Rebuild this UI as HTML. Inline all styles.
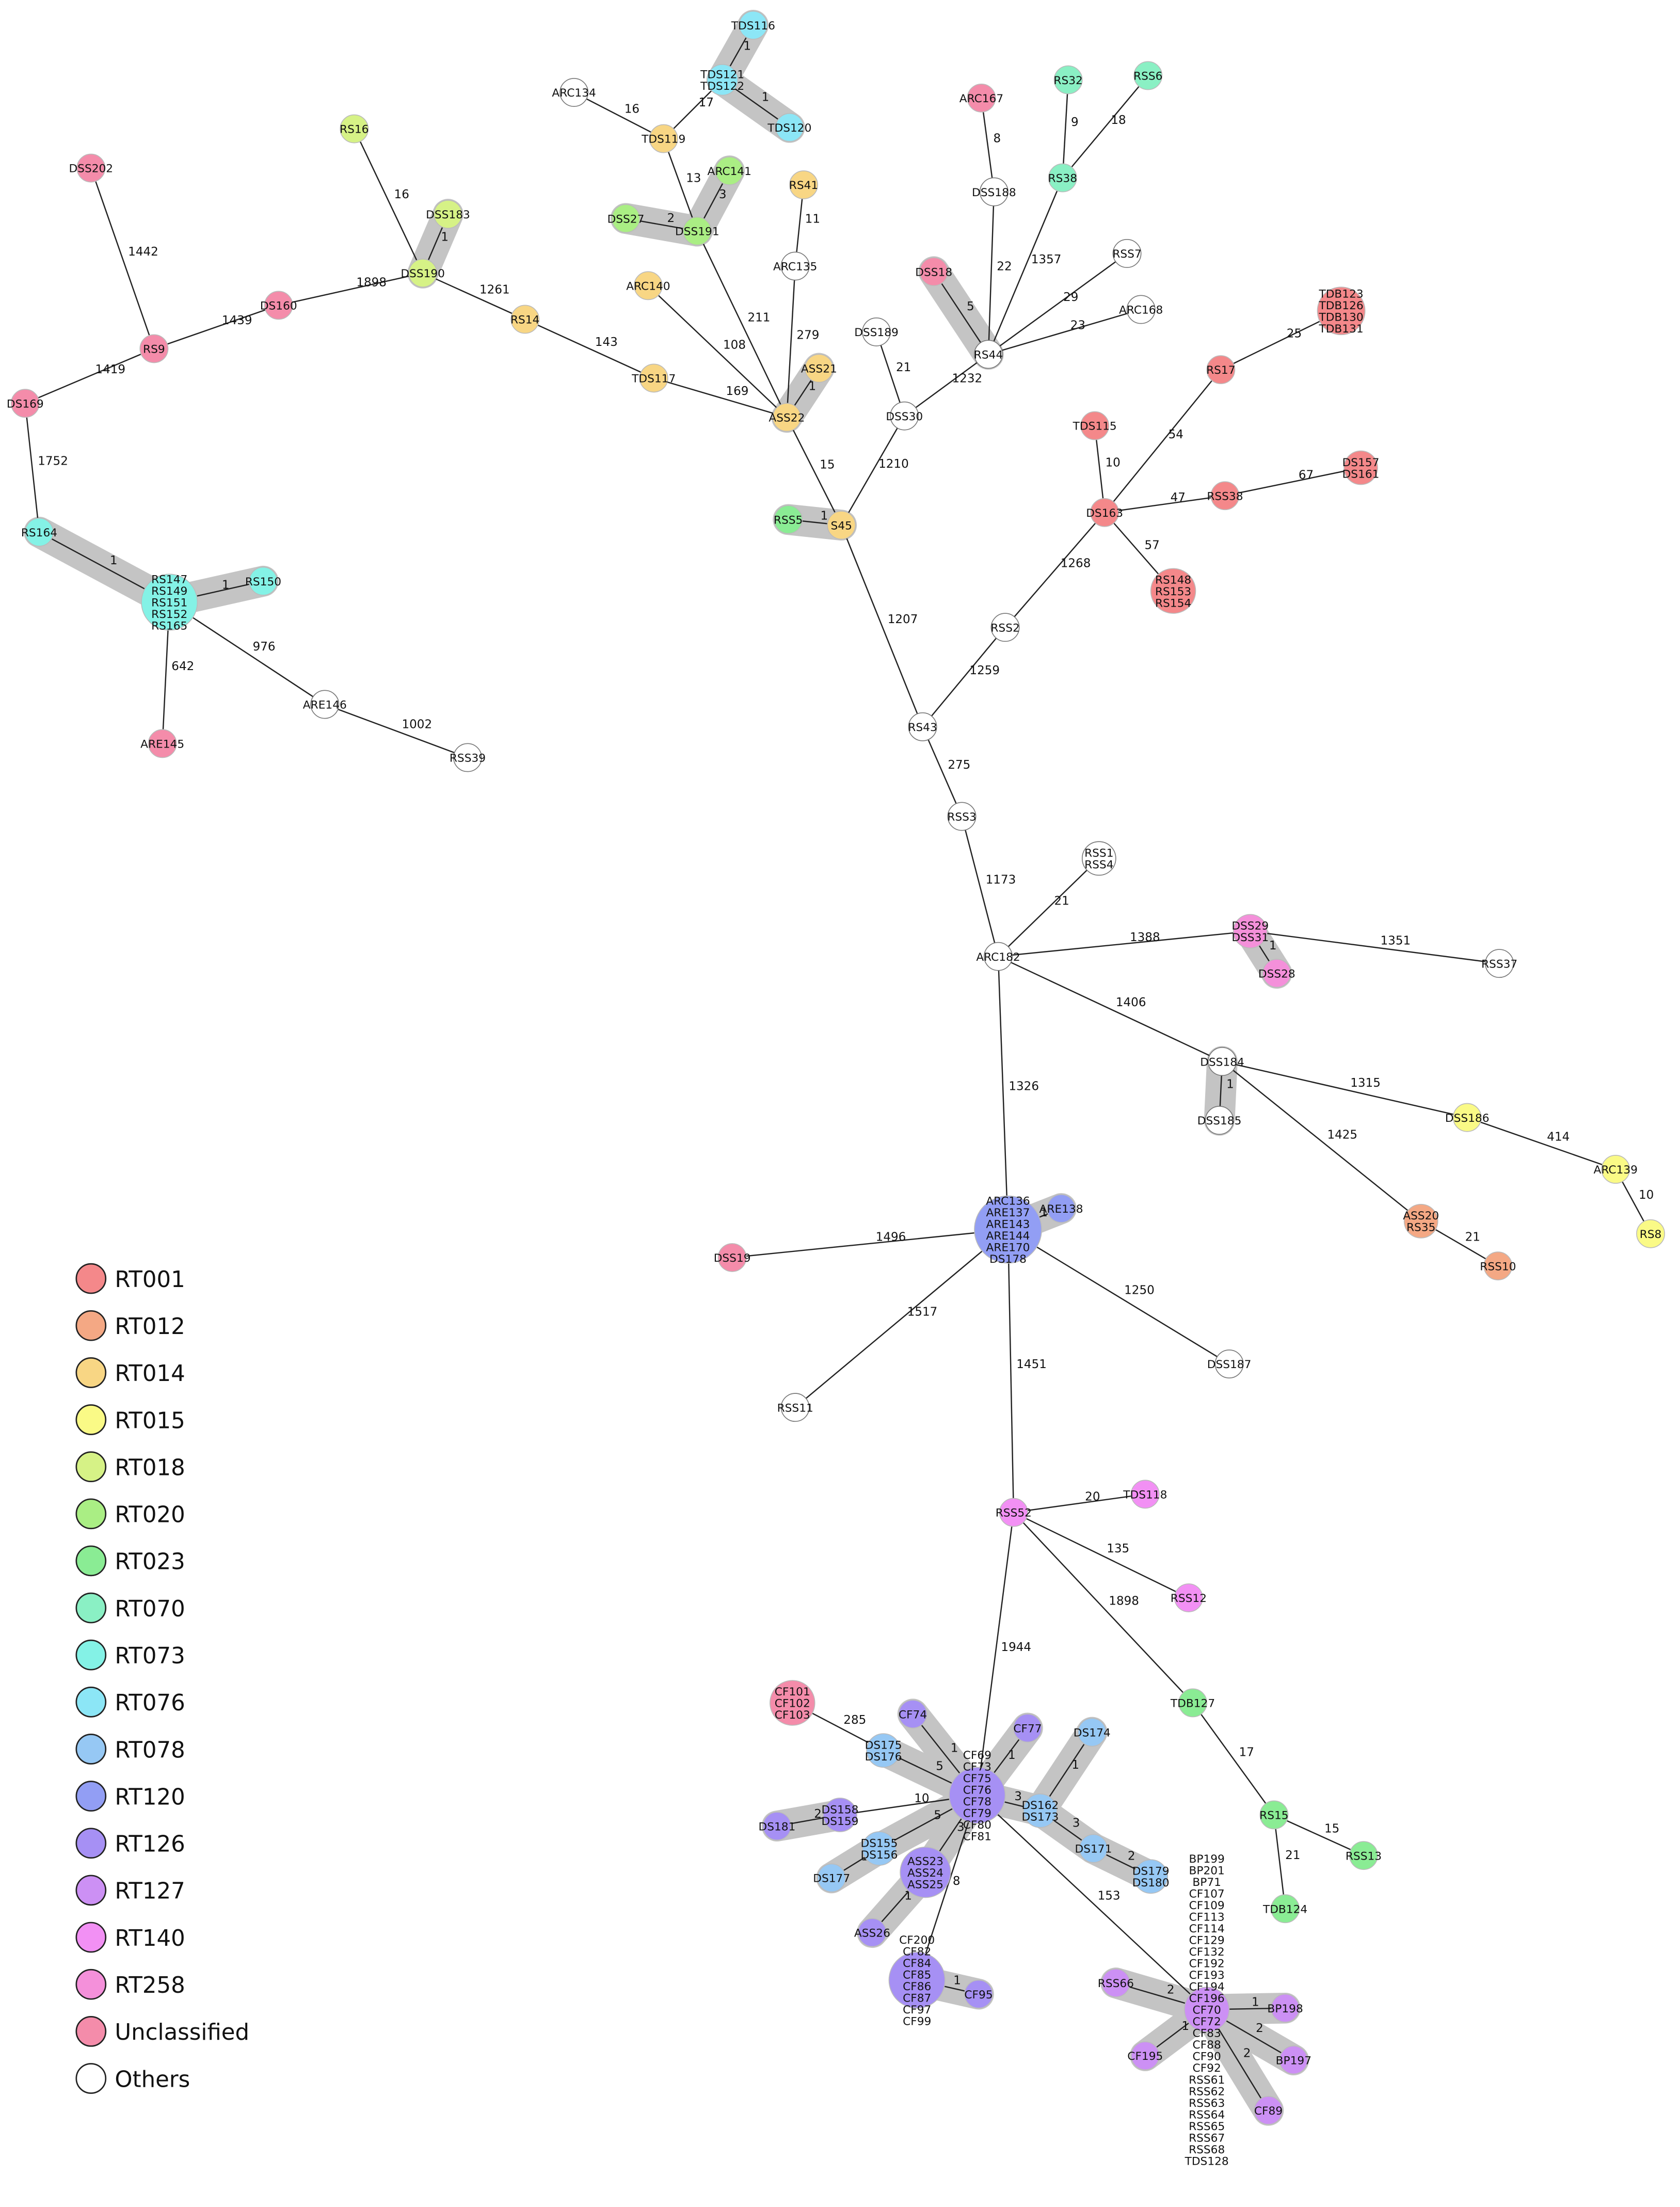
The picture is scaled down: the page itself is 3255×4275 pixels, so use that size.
<!DOCTYPE html>
<html><head><meta charset="utf-8"><style>
html,body{margin:0;padding:0;background:#fff}
svg{display:block}
text{font-family:"DejaVu Sans","Liberation Sans",sans-serif;fill:#111}
</style></head><body>
<svg id="s" width="3255" height="4275" viewBox="0 0 1200 1576" preserveAspectRatio="none" xmlns="http://www.w3.org/2000/svg">
<g id="bands"></g><g id="edges"></g><g id="elabels"></g><g id="nodes"></g><g id="legend"></g>
</svg>
<script>
const C={R001:"#f4888a",R012:"#f4a884",R014:"#f8d684",R015:"#fafa86",R018:"#d6f286",R020:"#aaee84",R023:"#8aec94",R070:"#8af0c4",R073:"#84f2e6",R076:"#8ce6f6",R078:"#96c8f4",R120:"#929ef4",R126:"#a690f4",R127:"#cc90f4",R140:"#f290f4",R258:"#f490da",U:"#f48caa",W:"#ffffff"};
// id: [x,y,r,color,labels(inside), above, below]
const N={
TDS116:[538,18,10,"R076",["TDS116"]],TDS121:[516,57,11,"R076",["TDS121","TDS122"]],TDS120:[564,91,10,"R076",["TDS120"]],
ARC134:[410,66,10,"W",["ARC134"]],TDS119:[474,99,10,"R014",["TDS119"]],ARC141:[521,122,10,"R020",["ARC141"]],
DSS27:[447,156,10,"R020",["DSS27"]],DSS191:[498,165,10,"R020",["DSS191"]],RS41:[574,132,10,"R014",["RS41"]],
ARC135:[568,190,10,"W",["ARC135"]],ARC140:[463,204,10,"R014",["ARC140"]],ASS21:[585,263,10,"R014",["ASS21"]],
ASS22:[562,298,10,"R014",["ASS22"]],TDS117:[467,270,10,"R014",["TDS117"]],RS14:[375,228,10,"R014",["RS14"]],
RS16:[253,92,10,"R018",["RS16"]],DSS183:[320,153,10,"R018",["DSS183"]],DSS190:[302,195,10,"R018",["DSS190"]],
DSS202:[65,120,10,"U",["DSS202"]],DS160:[199,218,10,"U",["DS160"]],RS9:[110,249,10,"U",["RS9"]],DS169:[18,288,10,"U",["DS169"]],
RS164:[28,380,10,"R073",["RS164"]],RS147:[121,430,20,"R073",["RS147","RS149","RS151","RS152","RS165"]],RS150:[188,415,10,"R073",["RS150"]],
ARE145:[116,531,10,"U",["ARE145"]],ARE146:[232,503,10,"W",["ARE146"]],RSS39:[334,541,10,"W",["RSS39"]],
RSS5:[563,371,10,"R023",["RSS5"]],S45:[601,375,10,"R014",["S45"]],DSS189:[626,237,10,"W",["DSS189"]],DSS30:[646,297,10,"W",["DSS30"]],
ARC167:[701,70,10,"U",["ARC167"]],RS32:[763,57,10,"R070",["RS32"]],RSS6:[820,54,10,"R070",["RSS6"]],RS38:[759,127,10,"R070",["RS38"]],
DSS188:[710,137,10,"W",["DSS188"]],DSS18:[667,194,10,"U",["DSS18"]],RS44:[706,253,10,"W",["RS44"]],RSS7:[805,181,10,"W",["RSS7"]],
ARC168:[815,221,10,"W",["ARC168"]],TDB123:[958,222,17,"R001",["TDB123","TDB126","TDB130","TDB131"]],RS17:[872,264,10,"R001",["RS17"]],
TDS115:[782,304,10,"R001",["TDS115"]],DS163:[789,366,10,"R001",["DS163"]],RSS38:[875,354,10,"R001",["RSS38"]],
DS157:[972,334,12,"R001",["DS157","DS161"]],RS148:[838,422,16,"R001",["RS148","RS153","RS154"]],RSS2:[718,448,10,"W",["RSS2"]],
RS43:[659,519,10,"W",["RS43"]],RSS3:[687,583,10,"W",["RSS3"]],RSS1:[785,613,12,"W",["RSS1","RSS4"]],ARC182:[713,683,10,"W",["ARC182"]],
DSS29:[893,665,12,"R258",["DSS29","DSS31"]],DSS28:[912,695,10,"R258",["DSS28"]],RSS37:[1071,688,10,"W",["RSS37"]],
DSS184:[873,758,10,"W",["DSS184"]],DSS185:[871,800,10,"W",["DSS185"]],DSS186:[1048,798,10,"R015",["DSS186"]],
ARC139:[1154,835,10,"R015",["ARC139"]],RS8:[1179,881,10,"R015",["RS8"]],ASS20:[1015,872,12,"R012",["ASS20","RS35"]],
RSS10:[1070,904,10,"R012",["RSS10"]],ARC136:[720,878,24,"R120",["ARE137","ARE143","ARE144","ARE170"],["ARC136"],["DS178"]],
ARE138:[758,863,10,"R120",["ARE138"]],DSS19:[523,898,10,"U",["DSS19"]],RSS11:[568,1005,10,"W",["RSS11"]],DSS187:[878,974,10,"W",["DSS187"]],
RSS52:[724,1080,10,"R140",["RSS52"]],TDS118:[818,1067,10,"R140",["TDS118"]],RSS12:[849,1141,10,"R140",["RSS12"]],
TDB127:[852,1216,10,"R023",["TDB127"]],RS15:[910,1296,10,"R023",["RS15"]],RSS13:[974,1325,10,"R023",["RSS13"]],TDB124:[918,1363,10,"R023",["TDB124"]],
CF101:[566,1216,16,"U",["CF101","CF102","CF103"]],CF74:[652,1224,10,"R126",["CF74"]],CF77:[734,1234,10,"R126",["CF77"]],
DS175:[631,1250,12,"R078",["DS175","DS176"]],CFC:[698,1282,20,"R126",["CF75","CF76","CF78","CF79"],["CF69","CF73"],["CF80","CF81"]],
DS174:[780,1237,10,"R078",["DS174"]],DS162:[743,1293,12,"R078",["DS162","DS173"]],DS158:[600,1296,12,"R126",["DS158","DS159"]],
DS181:[555,1304,10,"R126",["DS181"]],DS155:[628,1320,12,"R078",["DS155","DS156"]],DS177:[594,1341,10,"R078",["DS177"]],
DS171:[781,1320,10,"R078",["DS171"]],DS179:[822,1340,12,"R078",["DS179","DS180"]],ASS23:[661,1337,18,"R126",["ASS23","ASS24","ASS25"]],
ASS26:[623,1380,10,"R126",["ASS26"]],CF84:[655,1414,20,"R126",["CF84","CF85","CF86","CF87"],["CF200","CF82"],["CF97","CF99"]],
CF95:[699,1424,10,"R126",["CF95"]],RSS66:[797,1416,10,"R127",["RSS66"]],
CF196:[862,1435,16,"R127",["CF196","CF70","CF72"],["BP199","BP201","BP71","CF107","CF109","CF113","CF114","CF129","CF132","CF192","CF193","CF194"],["CF83","CF88","CF90","CF92","RSS61","RSS62","RSS63","RSS64","RSS65","RSS67","RSS68","TDS128"]],
BP198:[918,1434,10,"R127",["BP198"]],BP197:[924,1471,10,"R127",["BP197"]],CF195:[818,1468,10,"R127",["CF195"]],CF89:[906,1507,10,"R127",["CF89"]]
};
// [a,b,label,gray]
const E=[
["TDS116","TDS121","1",1],["TDS121","TDS120","1",1],["TDS121","TDS119","17"],["ARC134","TDS119","16"],["TDS119","DSS191","13"],
["DSS191","ARC141","3",1],["DSS27","DSS191","2",1],["DSS191","ASS22","211"],["RS41","ARC135","11"],["ARC135","ASS22","279"],
["ARC140","ASS22","108"],["ASS21","ASS22","1",1],["TDS117","ASS22","169"],["RS14","TDS117","143"],["DSS190","RS14","1261"],
["RS16","DSS190","16"],["DSS183","DSS190","1",1],["DS160","DSS190","1898"],["RS9","DS160","1439"],["DSS202","RS9","1442"],
["DS169","RS9","1419"],["DS169","RS164","1752"],["RS164","RS147","1",1],["RS147","RS150","1",1],["RS147","ARE145","642"],
["RS147","ARE146","976"],["ARE146","RSS39","1002"],["ASS22","S45","15"],["RSS5","S45","1",1],["DSS30","S45","1210"],
["DSS189","DSS30","21"],["RS44","DSS30","1232"],["ARC167","DSS188","8"],["DSS188","RS44","22"],["RS32","RS38","9"],["RSS6","RS38","18"],
["RS38","RS44","1357"],["DSS18","RS44","5",1],["RSS7","RS44","29"],["ARC168","RS44","23"],["TDB123","RS17","25"],["RS17","DS163","54"],
["TDS115","DS163","10"],["DS163","RSS38","47"],["RSS38","DS157","67"],["DS163","RS148","57"],["DS163","RSS2","1268"],["RSS2","RS43","1259"],
["S45","RS43","1207"],["RS43","RSS3","275"],["RSS3","ARC182","1173"],["RSS1","ARC182","21"],["ARC182","DSS29","1388"],["DSS29","DSS28","1",1],
["DSS29","RSS37","1351"],["ARC182","DSS184","1406"],["DSS184","DSS185","1",1],["DSS184","DSS186","1315"],["DSS186","ARC139","414"],
["ARC139","RS8","10"],["DSS184","ASS20","1425"],["ASS20","RSS10","21"],["ARC182","ARC136","1326"],["ARC136","ARE138","1",1],
["DSS19","ARC136","1496"],["RSS11","ARC136","1517"],["ARC136","DSS187","1250"],["ARC136","RSS52","1451"],["RSS52","TDS118","20"],
["RSS52","RSS12","135"],["RSS52","TDB127","1898"],["TDB127","RS15","17"],["RS15","RSS13","15"],["RS15","TDB124","21"],["RSS52","CFC","1944"],
["CF101","DS175","285"],["DS175","CFC","5",1],["CF74","CFC","1",1],["CF77","CFC","1",1],["DS158","CFC","10"],["DS181","DS158","2",1],
["DS155","CFC","5",1],["DS177","DS155","1",1],["ASS23","CFC","3",1],["ASS26","ASS23","1",1],["CFC","DS162","3",1],["DS162","DS174","1",1],
["DS162","DS171","3",1],["DS171","DS179","2",1],["CFC","CF84","8"],["CF84","CF95","1",1],["CFC","CF196","153"],["RSS66","CF196","2",1],
["CF196","BP198","1",1],["CF196","BP197","2",1],["CF196","CF195","1",1],["CF196","CF89","2",1]
];
const NS="http://www.w3.org/2000/svg";
function el(t,a,p,txt){const e=document.createElementNS(NS,t);for(const k in a)e.setAttribute(k,a[k]);if(txt!=null)e.textContent=txt;document.getElementById(p).appendChild(e);return e;}
for(const [a,b,l,g] of E){const A=N[a],B=N[b];
 if(g)el("line",{x1:A[0],y1:A[1],x2:B[0],y2:B[1],stroke:"#c4c4c4","stroke-width":22,"stroke-linecap":"round"},"bands");
 el("line",{x1:A[0],y1:A[1],x2:B[0],y2:B[1],stroke:"#222","stroke-width":0.9},"edges");
 const mx=(A[0]+B[0])/2,my=(A[1]+B[1])/2;
 el("text",{x:mx+4,y:my-2,"font-size":8.5,"text-anchor":"start"},"elabels",l);}
for(const k in N){const [x,y,r,c,ins,ab,be]=N[k];
 el("circle",{cx:x,cy:y,r:r,fill:C[c],stroke:c=="W"?"#777":"#bbb","stroke-width":0.6},"nodes");
 const lh=8.3;let n=ins.length;let y0=y-(n-1)*lh/2+3;
 ins.forEach((t,i)=>el("text",{x:x,y:y0+i*lh,"font-size":8,"text-anchor":"middle"},"nodes",t));
 if(ab)ab.forEach((t,i)=>el("text",{x:x,y:y0-(ab.length-i)*lh,"font-size":8,"text-anchor":"middle"},"nodes",t));
 if(be)be.forEach((t,i)=>el("text",{x:x,y:y0+(n+i)*lh,"font-size":8,"text-anchor":"middle"},"nodes",t));}
const L=[["RT001","R001"],["RT012","R012"],["RT014","R014"],["RT015","R015"],["RT018","R018"],["RT020","R020"],["RT023","R023"],["RT070","R070"],["RT073","R073"],["RT076","R076"],["RT078","R078"],["RT120","R120"],["RT126","R126"],["RT127","R127"],["RT140","R140"],["RT258","R258"],["Unclassified","U"],["Others","W"]];
L.forEach(([t,c],i)=>{const y=913+i*33.6;el("circle",{cx:65,cy:y,r:10.5,fill:C[c],stroke:"#222","stroke-width":1},"legend");
 el("text",{x:82,y:y+6,"font-size":16},"legend",t);});
</script>
</body></html>
